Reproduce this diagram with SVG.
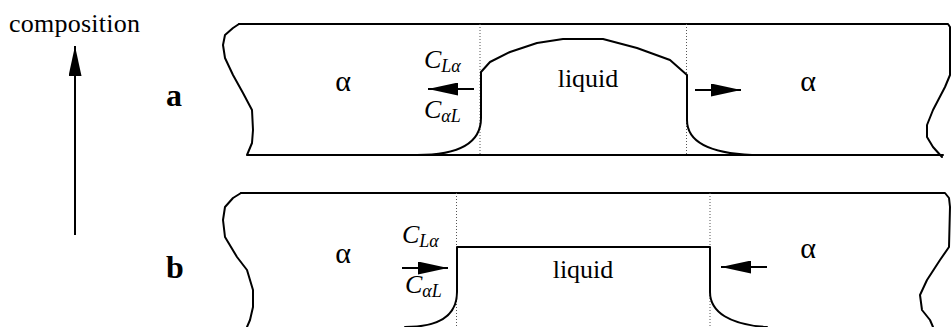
<svg xmlns="http://www.w3.org/2000/svg" width="951" height="327" viewBox="0 0 951 327">
<style>
.ln{fill:none;stroke:#000;stroke-width:2;stroke-linejoin:round;stroke-linecap:round}
.dot{fill:none;stroke:#555;stroke-width:1;stroke-dasharray:1,2}
.t{font-family:"Liberation Serif","DejaVu Serif",serif;fill:#000}
.lab{font-size:26px}
.al{font-size:30px}
.c{font-size:26px;font-style:italic}
.sub{font-size:18px;font-style:italic}
.bold{font-size:32px;font-weight:bold}
</style>
<defs>
<marker id="ahb" markerWidth="30" markerHeight="13" refX="30" refY="6.5" orient="auto" markerUnits="userSpaceOnUse" viewBox="0 0 30 13">
<path d="M0,0 L30,6.5 L0,13 Z" fill="#000"/>
</marker>
</defs>

<g id="axis">
<text class="t lab" x="9" y="32" textLength="131">composition</text>
<line x1="75" y1="235" x2="75" y2="46" stroke="#000" stroke-width="2" marker-end="url(#ahb)"/>
</g>

<g id="panel-a">
<path class="ln" d="M239,24 L948,24 L950,27 L950,75 L945,87 L933,110 L927,125 L927,137 L933,147 L942,157"/>
<path class="ln" d="M239,24 L233,28 L225,35 L223,45 L225,58 L233,75 L243,93 L252,110 L253,130 L252,143 L247,155 L943,155"/>
<line class="dot" x1="480" y1="24" x2="480" y2="155"/>
<line class="dot" x1="686.5" y1="24" x2="686.5" y2="155"/>
<path class="ln" d="M417,155 C465,155 481,140 481,118 L481,72 L490,62 L510,52 L537,43 L563,39 L603,39 L637,48 L670,60 L687,75 L687,120 C687,140 705,153 752,155"/>
<text class="t bold" x="166" y="106">a</text>
<text class="t al" x="343" y="91" text-anchor="middle">α</text>
<text class="t al" x="808" y="91" text-anchor="middle">α</text>
<text class="t lab" x="588" y="87" text-anchor="middle">liquid</text>
<text class="t" x="424" y="68"><tspan class="c">C</tspan><tspan class="sub" dy="4">Lα</tspan></text>
<text class="t" x="424" y="118"><tspan class="c">C</tspan><tspan class="sub" dy="4">αL</tspan></text>
</g>

<g id="panel-b">
<path class="ln" d="M241,193 L945,193 L949,198 L950,207 L949,247 L940,260 L927,280 L920,295 L922,310 L930,320 L933,327"/>
<path class="ln" d="M241,193 L233,198 L225,207 L223,220 L225,237 L237,257 L247,270 L253,290 L253,307 L250,320 L247,327"/>
<line class="dot" x1="456.5" y1="193" x2="456.5" y2="327"/>
<line class="dot" x1="710" y1="193" x2="710" y2="327"/>
<path class="ln" d="M405,327 C440,327 457,315 457,292 L457,247 L710,247 L710,292 C710,312 730,325 767,327"/>
<text class="t bold" x="166" y="278">b</text>
<text class="t al" x="343" y="263" text-anchor="middle">α</text>
<text class="t al" x="808" y="258" text-anchor="middle">α</text>
<text class="t lab" x="583" y="278" text-anchor="middle">liquid</text>
<text class="t" x="402" y="243"><tspan class="c">C</tspan><tspan class="sub" dy="4">Lα</tspan></text>
<text class="t" x="405" y="293"><tspan class="c">C</tspan><tspan class="sub" dy="4">αL</tspan></text>
</g>

<g id="connectors">
<line x1="474" y1="89" x2="428" y2="89" stroke="#000" stroke-width="2" marker-end="url(#ahb)"/>
<line x1="695" y1="90" x2="741" y2="90" stroke="#000" stroke-width="2" marker-end="url(#ahb)"/>
<line x1="402" y1="268" x2="448" y2="268" stroke="#000" stroke-width="2" marker-end="url(#ahb)"/>
<line x1="767" y1="267" x2="721" y2="267" stroke="#000" stroke-width="2" marker-end="url(#ahb)"/>
</g>
</svg>
